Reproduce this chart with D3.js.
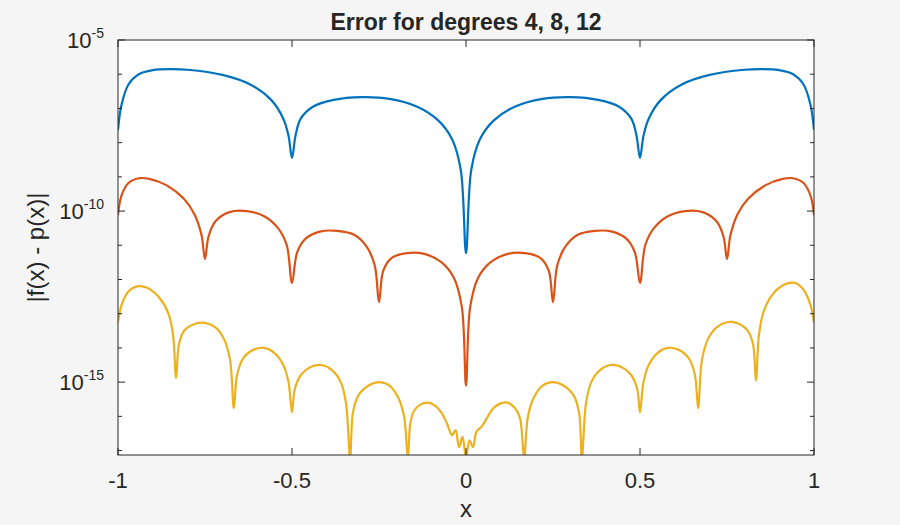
<!DOCTYPE html>
<html><head><meta charset="utf-8">
<script src="https://cdn.jsdelivr.net/npm/d3@7"></script>
<style>
body{margin:0;background:#f5f5f5;font-family:"Liberation Sans",Arial,sans-serif;}
</style></head>
<body><div id="chart"></div>
<script>
// [x, log10 error]
var deg4 = [[-1,-7.63],[-0.99,-6.9],[-0.97,-6.3],[-0.94,-6.0],[-0.9,-5.88],[-0.85,-5.85],[-0.8,-5.87],[-0.7,-6.02],[-0.62,-6.3],[-0.56,-6.75],[-0.525,-7.3],[-0.51,-7.8],[-0.5,-8.45],
  [-0.49,-7.8],[-0.475,-7.3],[-0.44,-6.95],[-0.38,-6.75],[-0.3,-6.67],[-0.22,-6.72],[-0.14,-6.95],[-0.08,-7.35],[-0.04,-7.9],[-0.015,-8.8],[0,-11.23],
  [0.015,-8.8],[0.04,-7.9],[0.08,-7.35],[0.14,-6.95],[0.22,-6.72],[0.3,-6.67],[0.38,-6.75],[0.44,-6.95],[0.475,-7.3],[0.49,-7.8],[0.5,-8.45],
  [0.51,-7.8],[0.525,-7.3],[0.56,-6.75],[0.62,-6.3],[0.7,-6.02],[0.8,-5.87],[0.85,-5.85],[0.9,-5.88],[0.94,-6.0],[0.97,-6.3],[0.99,-6.9],[1,-7.63]];

var deg8 = [[-1,-10.12],[-0.99,-9.55],[-0.97,-9.18],[-0.94,-9.04],[-0.91,-9.06],[-0.86,-9.25],[-0.81,-9.65],[-0.78,-10.1],[-0.76,-10.7],[-0.75,-11.4],
  [-0.74,-10.75],[-0.72,-10.3],[-0.68,-10.03],[-0.63,-10.0],[-0.58,-10.15],[-0.54,-10.5],[-0.515,-11.0],[-0.5,-12.1],
  [-0.485,-11.2],[-0.46,-10.8],[-0.42,-10.6],[-0.37,-10.58],[-0.32,-10.7],[-0.285,-11.05],[-0.262,-11.6],[-0.25,-12.66],
  [-0.238,-11.75],[-0.215,-11.38],[-0.17,-11.23],[-0.12,-11.25],[-0.07,-11.5],[-0.035,-11.95],[-0.012,-12.8],[0,-15.1],
  [0.012,-12.8],[0.035,-11.95],[0.07,-11.5],[0.12,-11.25],[0.17,-11.23],[0.215,-11.38],[0.238,-11.75],[0.25,-12.66],
  [0.262,-11.6],[0.285,-11.05],[0.32,-10.7],[0.37,-10.58],[0.42,-10.6],[0.46,-10.8],[0.485,-11.2],[0.5,-12.1],
  [0.515,-11.0],[0.54,-10.5],[0.58,-10.15],[0.63,-10.0],[0.68,-10.03],[0.72,-10.3],[0.74,-10.75],[0.75,-11.4],
  [0.76,-10.7],[0.78,-10.1],[0.81,-9.65],[0.86,-9.25],[0.91,-9.06],[0.94,-9.04],[0.97,-9.18],[0.99,-9.55],[1,-10.12]];

var deg12 = [[-1,-13.25],[-0.99,-12.75],[-0.97,-12.35],[-0.945,-12.2],[-0.915,-12.25],[-0.88,-12.55],[-0.855,-13.0],[-0.842,-13.6],[-0.833,-14.88],
  [-0.825,-13.9],[-0.81,-13.5],[-0.78,-13.3],[-0.75,-13.27],[-0.72,-13.4],[-0.695,-13.75],[-0.678,-14.35],[-0.667,-15.76],
  [-0.658,-14.8],[-0.64,-14.3],[-0.61,-14.05],[-0.58,-14.0],[-0.55,-14.15],[-0.525,-14.5],[-0.51,-15.0],[-0.5,-15.88],
  [-0.492,-15.2],[-0.475,-14.8],[-0.445,-14.55],[-0.415,-14.5],[-0.385,-14.65],[-0.36,-15.0],[-0.345,-15.6],[-0.333,-17.2],
  [-0.325,-15.9],[-0.31,-15.4],[-0.28,-15.1],[-0.25,-15.0],[-0.22,-15.1],[-0.195,-15.45],[-0.178,-16.0],[-0.167,-17.2],
  [-0.16,-16.2],[-0.15,-15.85],[-0.13,-15.65],[-0.11,-15.6],[-0.09,-15.68],[-0.07,-15.9],[-0.055,-16.2],[-0.04,-16.55],[-0.03,-16.4],[-0.02,-16.9],[-0.01,-16.6],[0,-17.2],
  [0.01,-16.7],[0.02,-16.9],[0.03,-16.45],[0.045,-16.3],[0.06,-16.05],[0.08,-15.75],[0.1,-15.62],[0.12,-15.6],[0.14,-15.75],[0.155,-16.05],[0.167,-17.2],
  [0.178,-16.0],[0.195,-15.45],[0.22,-15.1],[0.25,-15.0],[0.28,-15.1],[0.31,-15.4],[0.325,-15.9],[0.333,-17.2],
  [0.345,-15.6],[0.36,-15.0],[0.385,-14.65],[0.415,-14.5],[0.445,-14.55],[0.475,-14.8],[0.492,-15.2],[0.5,-15.88],
  [0.51,-15.0],[0.525,-14.5],[0.55,-14.15],[0.58,-14.0],[0.61,-14.05],[0.64,-14.3],[0.658,-14.8],[0.667,-15.76],
  [0.678,-14.35],[0.695,-13.75],[0.72,-13.4],[0.75,-13.25],[0.78,-13.28],[0.81,-13.5],[0.825,-13.9],[0.833,-14.95],
  [0.842,-13.6],[0.855,-12.95],[0.88,-12.45],[0.915,-12.15],[0.945,-12.1],[0.97,-12.3],[0.99,-12.75],[1,-13.25]];

var series = [deg4, deg8, deg12];
var colors = ["#0072BD", "#D95319", "#EDB120"];
var xTicks = [-1, -0.5, 0, 0.5, 1];
var yTickExps = [-5, -10, -15];

var svgWidth = 900, svgHeight = 525;
var margin = {top: 40, right: 86, bottom: 70, left: 118};
var width = svgWidth - margin.left - margin.right;
var height = svgHeight - margin.top - margin.bottom;

var svg = d3.select("#chart").append("svg")
    .attr("width", svgWidth).attr("height", svgHeight)
    .style("background", "#f5f5f5");

var g = svg.append("g").attr("transform", `translate(${margin.left}, ${margin.top})`);

var xScale = d3.scaleLinear().domain([-1, 1]).range([0, width]);
var yScale = d3.scaleLog().domain([Math.pow(10, -17.13), 1e-5]).range([height, 0]);

g.append("rect").attr("width", width).attr("height", height).attr("fill", "white");

var line = d3.line()
    .x(d => xScale(d[0]))
    .y(d => yScale(Math.pow(10, d[1])))
    .curve(d3.curveCatmullRom.alpha(0.5));

svg.append("clipPath").attr("id", "clip").append("rect")
    .attr("width", width).attr("height", height);

series.forEach(function (s, i) {
    g.append("path").datum(s)
        .attr("d", line)
        .attr("fill", "none")
        .attr("stroke", colors[i])
        .attr("stroke-width", 2.2)
        .attr("stroke-linejoin", "round")
        .attr("clip-path", "url(#clip)");
});

// box and ticks
var ax = "#262626";
g.append("rect").attr("width", width).attr("height", height)
    .attr("fill", "none").attr("stroke", ax).attr("stroke-width", 1);

var tl = 7;
xTicks.forEach(function (t) {
    var x = xScale(t);
    g.append("line").attr("x1", x).attr("x2", x).attr("y1", height).attr("y2", height - tl).attr("stroke", ax);
    g.append("line").attr("x1", x).attr("x2", x).attr("y1", 0).attr("y2", tl).attr("stroke", ax);
    g.append("text").attr("x", x).attr("y", height + 33)
        .attr("text-anchor", "middle").attr("font-size", 22).attr("fill", ax).text(t);
});

d3.range(-17, -4).forEach(function (e) {
    var y = yScale(Math.pow(10, e));
    var len = yTickExps.indexOf(e) >= 0 ? tl : 4;
    g.append("line").attr("x1", 0).attr("x2", len).attr("y1", y).attr("y2", y).attr("stroke", ax);
    g.append("line").attr("x1", width).attr("x2", width - len).attr("y1", y).attr("y2", y).attr("stroke", ax);
});

yTickExps.forEach(function (e) {
    var y = yScale(Math.pow(10, e));
    var t = g.append("text").attr("x", -14).attr("y", y + 8)
        .attr("text-anchor", "end").attr("font-size", 22).attr("fill", ax);
    t.append("tspan").text("10");
    t.append("tspan").attr("font-size", 14).attr("dy", -10).text(e);
});

g.append("text").attr("x", width / 2).attr("y", height + 62)
    .attr("text-anchor", "middle").attr("font-size", 24).attr("fill", ax).text("x");

g.append("text").attr("transform", "rotate(-90)")
    .attr("x", -height / 2).attr("y", -74)
    .attr("text-anchor", "middle").attr("font-size", 24).attr("fill", ax).text("|f(x) - p(x)|");

g.append("text").attr("x", width / 2).attr("y", -10)
    .attr("text-anchor", "middle").attr("font-size", 23).attr("font-weight", "bold")
    .attr("fill", ax).text("Error for degrees 4, 8, 12");
</script></body></html>
